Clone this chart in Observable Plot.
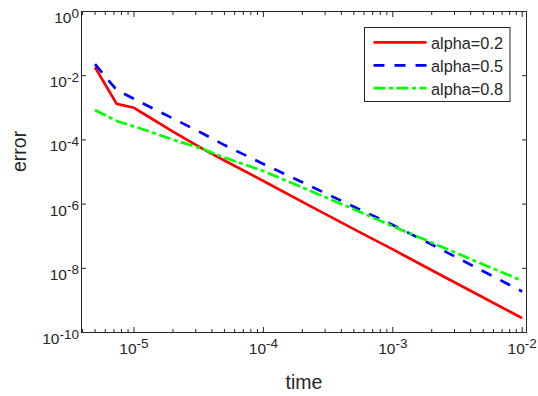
<!DOCTYPE html>
<html>
<head>
<meta charset="utf-8">
<script src="https://cdn.jsdelivr.net/npm/d3@7"></script>
<script src="https://cdn.jsdelivr.net/npm/@observablehq/plot@0.6"></script>
<style>
  html, body { margin: 0; padding: 0; background: #fff; }
  svg { display: block; }
</style>
</head>
<body>
<div id="chart"></div>
<script>
// ---- data ----
const time = [5e-6, 7.35e-6, 1e-5, 1.25e-5, 2e-5, 3.4e-5, 5e-5, 1e-4, 2e-4, 5e-4, 1e-3, 2e-3, 5e-3, 1e-2];
const errAlpha02 = [1.84e-2, 1.33e-3, 1.0e-3, 5.75e-4, 1.82e-4, 5.25e-5, 2.29e-5, 5.25e-6, 1.17e-6, 1.66e-7, 3.89e-8, 8.7e-9, 1.23e-9, 2.8e-10];
const errAlpha05 = [2.29e-2, 3.55e-3, 1.91e-3, 1.2e-3, 4.68e-4, 1.58e-4, 6.9e-5, 1.78e-5, 4.8e-6, 8.3e-7, 2.24e-7, 5.5e-8, 8.1e-9, 1.9e-9];
const errAlpha08 = [8.5e-4, 3.9e-4, 2.63e-4, 1.95e-4, 1.02e-4, 5.25e-5, 2.82e-5, 1.07e-5, 3.3e-6, 6.9e-7, 2.04e-7, 6.3e-8, 1.32e-8, 4.1e-9];
const seriesNames = ["alpha=0.2", "alpha=0.5", "alpha=0.8"];

const xTicks = [1e-5, 1e-4, 1e-3, 1e-2];
const xTickLabels = ["10^-5", "10^-4", "10^-3", "10^-2"];
const xMinorTicks = [4e-6, 5e-6, 6e-6, 7e-6, 8e-6, 9e-6,
  2e-5, 3e-5, 4e-5, 5e-5, 6e-5, 7e-5, 8e-5, 9e-5,
  2e-4, 3e-4, 4e-4, 5e-4, 6e-4, 7e-4, 8e-4, 9e-4,
  2e-3, 3e-3, 4e-3, 5e-3, 6e-3, 7e-3, 8e-3, 9e-3];
const yTicks = [1, 1e-2, 1e-4, 1e-6, 1e-8, 1e-10];
const yTickLabels = ["10^0", "10^-2", "10^-4", "10^-6", "10^-8", "10^-10"];
const xLabel = "time";
const yLabel = "error";

// ---- styling ----
const AX = "#262626";
const FONT = "'Liberation Sans', Arial, Helvetica, sans-serif";
const styles = [
  {stroke: "#ff0000", dash: null},
  {stroke: "#0000ff", dash: "11,10"},
  {stroke: "#00ff00", dash: "12,3.5,4,3.5"}
];
const seriesValues = [errAlpha02, errAlpha05, errAlpha08];
const seriesData = seriesValues.map(vals => time.map((t, i) => ({t, e: vals[i]})));

const lineMarks = seriesData.map((d, k) => Plot.line(d, {
  x: "t", y: "e",
  stroke: styles[k].stroke,
  strokeWidth: 2.7,
  strokeDasharray: styles[k].dash,
  strokeLinecap: "butt",
  strokeLinejoin: "round"
}));

const noText = {text: null, tickFormat: () => "", label: null, stroke: AX, strokeWidth: 1};

const svg = Plot.plot({
  width: 538,
  height: 396,
  marginLeft: 81,
  marginRight: 12,
  marginTop: 11,
  marginBottom: 64,
  style: {fontFamily: FONT, fontSize: "15px", background: "#fff", color: AX},
  x: {type: "log", domain: [3.93e-6, 1.08e-2]},
  y: {type: "log", domain: [1e-10, 1]},
  marks: [
    ...lineMarks,
    Plot.axisX(xMinorTicks, {anchor: "bottom", tickSize: -3, ...noText}),
    Plot.axisX(xMinorTicks, {anchor: "top", tickSize: -3, ...noText}),
    Plot.axisX(xTicks, {anchor: "bottom", tickSize: -5, ...noText}),
    Plot.axisX(xTicks, {anchor: "top", tickSize: -5, ...noText}),
    Plot.axisY(yTicks, {anchor: "left", tickSize: -5, ...noText}),
    Plot.axisY(yTicks, {anchor: "right", tickSize: -5, ...noText}),
    Plot.axisX(xTicks, {anchor: "bottom", tickSize: 0, tickPadding: 10, fontSize: 15.5, fill: AX,
      tickFormat: d => xTickLabels[xTicks.indexOf(d)], label: null}),
    Plot.axisY(yTicks, {anchor: "left", tickSize: 0, tickPadding: 2.5, fontSize: 15.5, fill: AX, dy: 6.6,
      tickFormat: d => yTickLabels[yTicks.indexOf(d)], label: null}),
    Plot.frame({stroke: AX, strokeWidth: 1}),
    Plot.text([xLabel], {frameAnchor: "bottom", dy: 56, lineAnchor: "bottom", text: d => d,
      fontSize: 19.5, fill: AX}),
    Plot.text([yLabel], {frameAnchor: "left", dx: -55.5, rotate: -90, lineAnchor: "bottom", text: d => d,
      fontSize: 19.5, fill: AX})
  ]
});

// superscript exponents on tick labels
d3.select(svg)
  .selectAll('g[aria-label="x-axis tick label"] text, g[aria-label="y-axis tick label"] text')
  .each(function () {
    const s = this.textContent;
    if (!s.includes("^")) return;
    const [base, exp] = s.split("^");
    const t = d3.select(this);
    t.text(null);
    t.style("font-size", "15.5px").style("font-family", FONT);
    t.append("tspan").style("font-size", "15.5px").text(base);
    t.append("tspan").attr("dy", -5.5).style("font-size", "13.5px").text(exp);
  });

// legend (MATLAB-style box, top-right)
const lg = d3.select(svg).append("g")
  .attr("font-family", FONT)
  .attr("text-anchor", "start")
  .style("font-size", "16.3px");
lg.append("rect")
  .attr("x", 364.5).attr("y", 27.5).attr("width", 145.5).attr("height", 74)
  .attr("fill", "#fff").attr("stroke", AX).attr("stroke-width", 1);
const rowY = [42.3, 65.3, 88.2];
seriesNames.forEach((name, k) => {
  lg.append("line")
    .attr("x1", 373.5).attr("x2", 426.5).attr("y1", rowY[k]).attr("y2", rowY[k])
    .attr("stroke", styles[k].stroke).attr("stroke-width", 2.7)
    .attr("stroke-dasharray", styles[k].dash).attr("stroke-linecap", "butt");
  lg.append("text")
    .attr("x", 431).attr("y", rowY[k] + 6.3)
    .attr("text-anchor", "start")
    .attr("fill", AX)
    .text(name);
});

document.getElementById("chart").appendChild(svg);
</script>
</body>
</html>
